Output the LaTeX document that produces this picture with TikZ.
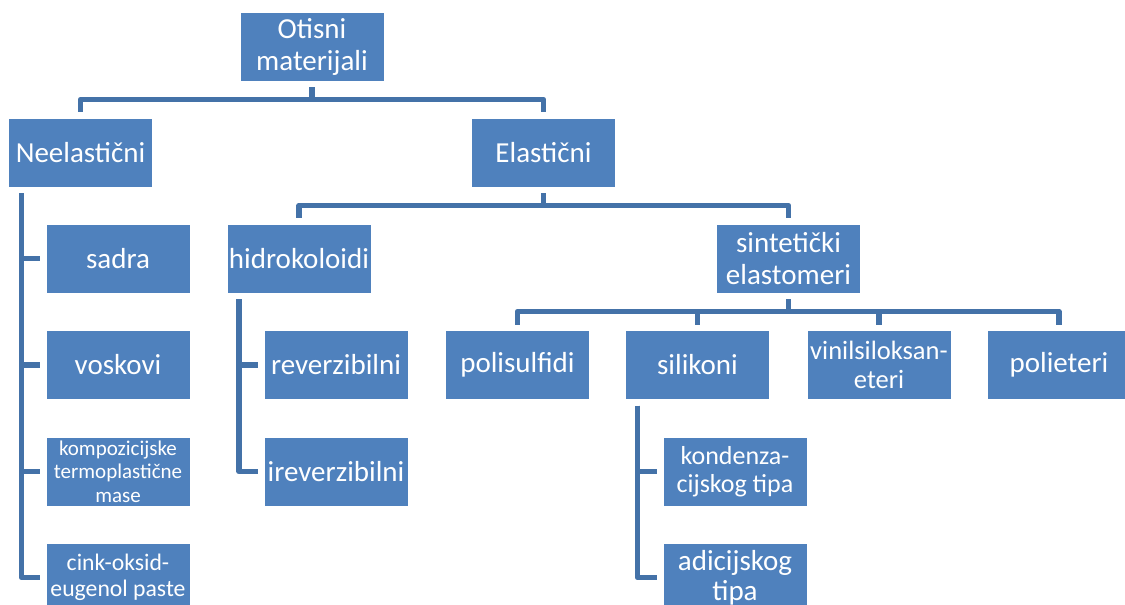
\documentclass[tikz,border=0pt]{standalone}
\usepackage{fontspec}
\setmainfont{Carlito}
\usepackage{tikz}
\usetikzlibrary{calc}

\definecolor{boxblue}{HTML}{4F81BD}
\definecolor{lineblue}{HTML}{4472A8}

\tikzset{
  box/.style={fill=boxblue, draw=white, line width=0.6pt, text=white,
    minimum width=144, minimum height=69, inner sep=1pt, outer sep=6pt,
    align=center, font=\fontsize{29}{32}\selectfont},
  link/.style={draw=lineblue, line width=5.5pt, line join=round}
}

\begin{document}
\begin{tikzpicture}[x=1pt, y=-1pt]
\useasboundingbox (0,0) rectangle (1125,605);
\clip (0,0) rectangle (1125,605);
% Boxes
\node[box] (root) at (312,46.5) {Otisni\\materijali};
\node[box] (neel) at (80.5,152.5) {Neelastični};
\node[box] (elast) at (543.5,152.5) {Elastični};
% Neelastični
\node[box] (sadra) at (118,258.5) {sadra};
\node[box] (vosk) at (118,365) {voskovi};
\node[box, font=\fontsize{21}{23.5}\selectfont] (komp) at (118,471.5) {kompozicijske\\termoplastične\\mase};
\node[box, font=\fontsize{23.7}{26.5}\selectfont] (cink) at (118,577.5) {cink-oksid-\\eugenol paste};
% Elastični
\node[box] (hidro) at (299,258.5) {hidrokoloidi};
\node[box] (rever) at (336,365) {reverzibilni};
\node[box] (irever) at (336,471.5) {ireverzibilni};
\node[box] (sint) at (788.5,258.5) {sintetički\\elastomeri};
\node[box] (polis) at (517.5,365) {polisulfidi};
\node[box] (silik) at (697.5,365) {silikoni};
\node[box, font=\fontsize{26.5}{29.5}\selectfont] (vinil) at (879,365) {vinilsiloksan-\\eteri};
\node[box] (poliet) at (1059,365) {polieteri};
\node[box, font=\fontsize{26}{28.5}\selectfont] (kond) at (735,471.5) {kondenza-\\cijskog tipa};
\node[box, font=\fontsize{29}{30}\selectfont] (adic) at (735,577.5) {adicijskog\\tipa};
% Connectors
\draw[link] (root.south) -- ++(0,12.5) -| (neel.north);
\draw[link] (root.south) -- ++(0,12.5) -| (elast.north);
\draw[link] (elast.south) -- ++(0,12.5) -| (hidro.north);
\draw[link] (elast.south) -- ++(0,12.5) -| (sint.north);
\foreach \k in {polis,silik,vinil,poliet}
  \draw[link] (sint.south) -- ++(0,12.5) -| (\k.north);
\foreach \k in {sadra,vosk,komp,cink}
  \draw[link] ($(neel.south west)+(19,0)$) |- (\k.west);
\foreach \k in {rever,irever}
  \draw[link] ($(hidro.south west)+(18,0)$) |- (\k.west);
\foreach \k in {kond,adic}
  \draw[link] ($(silik.south west)+(18,0)$) |- (\k.west);
\end{tikzpicture}
\end{document}
